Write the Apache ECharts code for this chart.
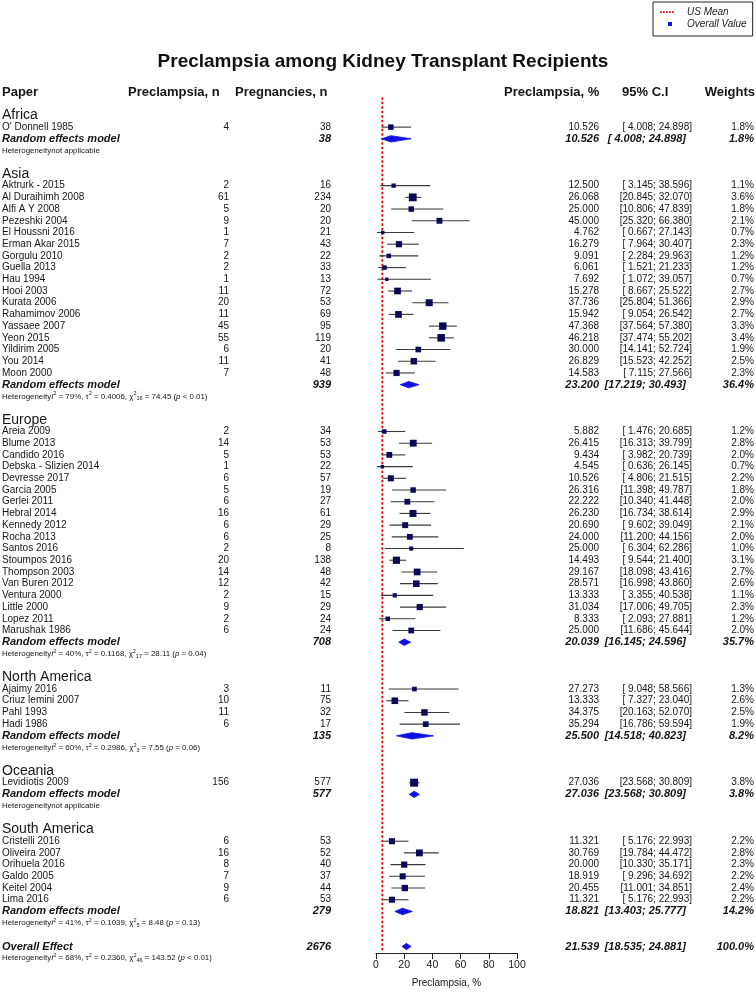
<!DOCTYPE html>
<html><head><meta charset="utf-8">
<script src="https://cdn.jsdelivr.net/npm/echarts@6/dist/echarts.min.js"></script>
<style>html,body{margin:0;padding:0;background:#fff}#c{width:756px;height:992px}</style>
</head><body><div id="c"></div>
<script>
// ---------------- DATA ----------------
const chartTitle = 'Preclampsia among Kidney Transplant Recipients';
const columnHeaders = ['Paper', 'Preclampsia, n', 'Pregnancies, n', 'Preclampsia, %', '95% C.I', 'Weights'];
const regions = ['Africa', 'Asia', 'Europe', 'North America', 'Oceania', 'South America'];

const studyNames = [
  "O' Donnell 1985",
  'Aktrurk - 2015', 'Al Duraihimh 2008', 'Alfi A Y 2008', 'Pezeshki 2004', 'El Houssni 2016', 'Erman Akar 2015',
  'Gorgulu 2010', 'Guella 2013', 'Hau 1994', 'Hooi 2003', 'Kurata 2006', 'Rahamimov 2006', 'Yassaee 2007',
  'Yeon 2015', 'Yildirim 2005', 'You 2014', 'Moon 2000',
  'Areia 2009', 'Blume 2013', 'Candido 2016', 'Debska - Slizien 2014', 'Devresse 2017', 'Garcia 2005',
  'Gerlei 2011', 'Hebral 2014', 'Kennedy 2012', 'Rocha 2013', 'Santos 2016', 'Stoumpos 2016',
  'Thompson 2003', 'Van Buren 2012', 'Ventura 2000', 'Little 2000', 'Lopez 2011', 'Marushak 1986',
  'Ajaimy 2016', 'Criuz lemini 2007', 'Pahl 1993', 'Hadi 1986',
  'Levidiotis 2009',
  'Cristelli 2016', 'Oliveira 2007', 'Orihuela 2016', 'Galdo 2005', 'Keitel 2004', 'Lima 2016'
];
const studyRegion = [
  'Africa',
  'Asia','Asia','Asia','Asia','Asia','Asia','Asia','Asia','Asia','Asia','Asia','Asia','Asia','Asia','Asia','Asia','Asia',
  'Europe','Europe','Europe','Europe','Europe','Europe','Europe','Europe','Europe','Europe','Europe','Europe',
  'Europe','Europe','Europe','Europe','Europe','Europe',
  'North America','North America','North America','North America',
  'Oceania',
  'South America','South America','South America','South America','South America','South America'
];
const preeclampsiaN = [4, 2,61,5,9,1,7,2,2,1,11,20,11,45,55,6,11,7, 2,14,5,1,6,5,6,16,6,6,2,20,14,12,2,9,2,6, 3,10,11,6, 156, 6,16,8,7,9,6];
const pregnanciesN = [38, 16,234,20,20,21,43,22,33,13,72,53,69,95,119,20,41,48, 34,53,53,22,57,19,27,61,29,25,8,138,48,42,15,29,24,24, 11,75,32,17, 577, 53,52,40,37,44,53];
const proportionPct = [10.526,
  12.500,26.068,25.000,45.000,4.762,16.279,9.091,6.061,7.692,15.278,37.736,15.942,47.368,46.218,30.000,26.829,14.583,
  5.882,26.415,9.434,4.545,10.526,26.316,22.222,26.230,20.690,24.000,25.000,14.493,29.167,28.571,13.333,31.034,8.333,25.000,
  27.273,13.333,34.375,35.294,
  27.036,
  11.321,30.769,20.000,18.919,20.455,11.321];
const ciLower = [4.008,
  3.145,20.845,10.806,25.320,0.667,7.964,2.284,1.521,1.072,8.667,25.804,9.054,37.564,37.474,14.141,15.523,7.115,
  1.476,16.313,3.982,0.636,4.806,11.398,10.340,16.734,9.602,11.200,6.304,9.544,18.098,16.998,3.355,17.006,2.093,11.686,
  9.048,7.327,20.163,16.786,
  23.568,
  5.176,19.784,10.330,9.296,11.001,5.176];
const ciUpper = [24.898,
  38.596,32.070,47.839,66.380,27.143,30.407,29.963,21.233,39.057,25.522,51.366,26.542,57.380,55.202,52.724,42.252,27.566,
  20.685,39.799,20.739,26.145,21.515,49.787,41.448,38.614,39.049,44.156,62.286,21.400,43.416,43.860,40.538,49.705,27.881,45.644,
  58.566,23.040,52.070,59.594,
  30.809,
  22.993,44.472,35.171,34.692,34.851,22.993];
const weightPct = [1.8,
  1.1,3.6,1.8,2.1,0.7,2.3,1.2,1.2,0.7,2.7,2.9,2.7,3.3,3.4,1.9,2.5,2.3,
  1.2,2.8,2.0,0.7,2.2,1.8,2.0,2.9,2.1,2.0,1.0,3.1,2.7,2.6,1.1,2.3,1.2,2.0,
  1.3,2.6,2.5,1.9,
  3.8,
  2.2,2.8,2.3,2.2,2.4,2.2];

// Random effects model per region
const pooledTotals = [38, 939, 708, 135, 577, 279];
const pooledProp   = [10.526, 23.200, 20.039, 25.500, 27.036, 18.821];
const pooledLower  = [4.008, 17.219, 16.145, 14.518, 23.568, 13.403];
const pooledUpper  = [24.898, 30.493, 24.596, 40.823, 30.809, 25.777];
const pooledWeight = [1.8, 36.4, 35.7, 8.2, 3.8, 14.2];
const hetI2   = [null, '79', '40', '60', null, '41'];
const hetTau2 = [null, '0.4006', '0.1168', '0.2986', null, '0.1039'];
const hetDf   = [null, '16', '17', '3', null, '5'];
const hetQ    = [null, '74.45', '28.11', '7.55', null, '8.48'];
const hetP    = [null, '< 0.01', '= 0.04', '= 0.06', null, '= 0.13'];

// Overall effect
const overallLabel = 'Overall Effect';
const overallTotal = 2676;
const overallProp = 21.539, overallLower = 18.535, overallUpper = 24.881, overallWeight = 100.0;
const overallHet = { i2: '68', tau2: '0.2360', df: '46', q: '143.52', p: '< 0.01' };

const usMean = 4.5;
const xTicks = [0, 20, 40, 60, 80, 100];
const xAxisName = 'Preclampsia, %';
const legendNames = ['US Mean', 'Overall Value'];

// ---------------- LAYOUT / STYLE ----------------
const FONT = '"Liberation Sans", Arial, Helvetica, sans-serif';
const TXT = '#151515';
const COL = { paper: 2, events: 229, totals: 331, prop: 599, ci: 692, ciBold: 686, weight: 754 };
const HDR = [{x:2, a:'left'}, {x:128, a:'left'}, {x:235, a:'left'}, {x:504, a:'left'}, {x:622, a:'left'}, {x:755, a:'right'}];

// build row structure
const rows = [];
rows.push({ kind: 'header' });
rows.push({ kind: 'blank' });
regions.forEach((reg, g) => {
  rows.push({ kind: 'region', g });
  studyNames.forEach((n, i) => { if (studyRegion[i] === reg) rows.push({ kind: 'study', i }); });
  rows.push({ kind: 'pooled', g });
  rows.push({ kind: 'het', g });
  rows.push({ kind: 'blank' });
});
rows.push({ kind: 'overall' });
rows.push({ kind: 'overallHet' });

const rowOfStudy = {}, rowOfPooled = {}; let rowOverall = 0;
rows.forEach((r, k) => {
  if (r.kind === 'study') rowOfStudy[r.i] = k;
  if (r.kind === 'pooled') rowOfPooled[r.g] = k;
  if (r.kind === 'overall') rowOverall = k;
});

const f3 = v => v.toFixed(3);
const ciText = (lo, hi) => '[' + (lo < 10 ? ' ' : '') + f3(lo) + '; ' + f3(hi) + ']';
const wText = w => w.toFixed(1) + '%';

function hetRich(h) {
  if (!h) return '{n|Heterogeneitynot applicable}';
  return '{n|Heterogeneity}{it|I}{sup|2}{n| = ' + h.i2 + '%, τ}{sup|2}{n| = ' + h.tau2 + ', χ}{sup|2}{sub|' + h.df +
    '}{n| = ' + h.q + ' (}{it|p}{n| ' + h.p + ')}';
}
const HF = 7.9;
const hetStyles = {
  n: { fontSize: HF, fontFamily: FONT, fill: TXT, lineHeight: 11 },
  it: { fontSize: HF, fontFamily: FONT, fontStyle: 'italic', fill: TXT, lineHeight: 11 },
  sup: { fontSize: 5.5, fontFamily: FONT, fill: TXT, verticalAlign: 'top', lineHeight: 7 },
  sub: { fontSize: 5.5, fontFamily: FONT, fill: TXT, verticalAlign: 'bottom', lineHeight: 7 }
};

function T(x, y, text, o) {
  return { type: 'text', x: x, y: y, silent: true,
    style: Object.assign({ text: text, fill: TXT, fontFamily: FONT, fontSize: 10, align: 'left', verticalAlign: 'middle' }, o || {}) };
}
const BI = { fontSize: 11, fontWeight: 'bold', fontStyle: 'italic' };

// series data
const tableData = rows.map((r, k) => [0, k]);
const studyData = studyNames.map((n, i) => [proportionPct[i], ciLower[i], ciUpper[i], rowOfStudy[i], weightPct[i]]);
const diamondData = regions.map((r, g) => [pooledProp[g], pooledLower[g], pooledUpper[g], rowOfPooled[g]])
  .concat([[overallProp, overallLower, overallUpper, rowOverall]]);
const refLine = [[usMean, 0.45], [usMean, rowOverall + 0.42]];

const chart = echarts.init(document.getElementById('c'), null, { renderer: 'canvas', width: 756, height: 992 });

const option = {
  animation: false,
  backgroundColor: '#fff',
  title: {
    text: chartTitle, left: 378, top: 47, textAlign: 'center',
    textStyle: { fontFamily: FONT, fontSize: 19, fontWeight: 'bold', color: '#111' }
  },
  legend: {
    left: 653, top: 2, orient: 'vertical', selectedMode: false,
    padding: [4, 6, 6, 7], itemGap: 0, itemWidth: 22, itemHeight: 8,
    borderColor: '#222', borderWidth: 1, backgroundColor: '#fff',
    textStyle: { fontFamily: FONT, fontSize: 10, fontStyle: 'italic', color: '#222', lineHeight: 12 },
    data: [
      { name: legendNames[0], icon: 'path://M0,0M22,8M0,3.2h1.7v1.7h-1.7zM3,3.2h1.7v1.7h-1.7zM6,3.2h1.7v1.7h-1.7zM9,3.2h1.7v1.7h-1.7zM12,3.2h1.7v1.7h-1.7z', itemStyle: { color: '#e00000', borderWidth: 0 } },
      { name: legendNames[1], icon: 'path://M0,0M22,8M8,2h4v4h-4z', itemStyle: { color: '#1010e0', borderWidth: 0 } }
    ]
  },
  grid: { left: 376, width: 141, top: 92, height: 861, outerBoundsMode: 'none', containLabel: false },
  xAxis: {
    type: 'value', min: xTicks[0], max: xTicks[xTicks.length - 1], interval: 20,
    name: xAxisName, nameLocation: 'middle', nameGap: 25,
    nameTextStyle: { fontFamily: FONT, fontSize: 10, color: TXT },
    axisLine: { show: true, onZero: false, lineStyle: { color: '#222', width: 1 } },
    axisTick: { show: true, inside: false, length: 6, lineStyle: { color: '#222' } },
    axisLabel: { fontFamily: FONT, fontSize: 10.5, color: TXT, margin: 7 },
    splitLine: { show: false }
  },
  yAxis: { type: 'value', min: 0, max: rowOverall + 0.55, inverse: true, show: false },
  series: [
    {
      type: 'line', name: legendNames[0], data: refLine, symbol: 'none', z: 1,
      itemStyle: { color: '#e00000' },
      lineStyle: { color: '#e00000', width: 1.8, type: [2.5, 2] }
    },
    {
      type: 'custom', name: 'studies', data: studyData, encode: { x: [0, 1, 2], y: 3 }, z: 3, clip: false,
      renderItem: function (params, api) {
        const row = api.value(3);
        const p = api.coord([api.value(0), row]);
        const l = api.coord([api.value(1), row]);
        const u = api.coord([api.value(2), row]);
        const s = 4.1 * Math.sqrt(api.value(4));
        return { type: 'group', children: [
          { type: 'line', shape: { x1: l[0], y1: p[1], x2: u[0], y2: p[1] }, style: { stroke: '#3a3a3a', lineWidth: 1.1 } },
          { type: 'rect', shape: { x: p[0] - s / 2, y: p[1] - s / 2, width: s, height: s }, style: { fill: '#0b0b55' } }
        ] };
      }
    },
    {
      type: 'custom', name: legendNames[1], data: diamondData, encode: { x: [0, 1, 2], y: 3 }, z: 3, clip: false,
      itemStyle: { color: '#1010e0' },
      renderItem: function (params, api) {
        const row = api.value(3);
        const p = api.coord([api.value(0), row]);
        const l = api.coord([api.value(1), row]);
        const u = api.coord([api.value(2), row]);
        const h = 3.2;
        return { type: 'polygon', shape: { points: [[l[0], p[1]], [p[0], p[1] - h], [u[0], p[1]], [p[0], p[1] + h]] },
          style: { fill: '#1010e0', stroke: '#1010e0', lineWidth: 0.8 } };
      }
    },
    {
      type: 'custom', name: 'table', data: tableData, encode: { x: 0, y: 1 }, z: 5, silent: true, clip: false,
      renderItem: function (params, api) {
        const k = api.value(1);
        const y = api.coord([0, k])[1];
        const r = rows[k];
        const c = [];
        if (r.kind === 'header') {
          columnHeaders.forEach((h, j) => c.push(T(HDR[j].x, y, h, { fontSize: 13, fontWeight: 'bold', align: HDR[j].a })));
        } else if (r.kind === 'region') {
          c.push(T(COL.paper, y, regions[r.g], { fontSize: 14 }));
        } else if (r.kind === 'study') {
          const i = r.i;
          c.push(T(COL.paper, y, studyNames[i]));
          c.push(T(COL.events, y, String(preeclampsiaN[i]), { align: 'right' }));
          c.push(T(COL.totals, y, String(pregnanciesN[i]), { align: 'right' }));
          c.push(T(COL.prop, y, f3(proportionPct[i]), { align: 'right' }));
          c.push(T(COL.ci, y, ciText(ciLower[i], ciUpper[i]), { align: 'right' }));
          c.push(T(COL.weight, y, wText(weightPct[i]), { align: 'right' }));
        } else if (r.kind === 'pooled') {
          const g = r.g;
          c.push(T(COL.paper, y, 'Random effects model', BI));
          c.push(T(COL.totals, y, String(pooledTotals[g]), Object.assign({ align: 'right' }, BI)));
          c.push(T(COL.prop, y, f3(pooledProp[g]), Object.assign({ align: 'right' }, BI)));
          c.push(T(COL.ciBold, y, ciText(pooledLower[g], pooledUpper[g]), Object.assign({ align: 'right' }, BI)));
          c.push(T(COL.weight, y, wText(pooledWeight[g]), Object.assign({ align: 'right' }, BI)));
        } else if (r.kind === 'het' || r.kind === 'overallHet') {
          let h = null;
          if (r.kind === 'het') {
            const g = r.g;
            if (hetI2[g] !== null) h = { i2: hetI2[g], tau2: hetTau2[g], df: hetDf[g], q: hetQ[g], p: hetP[g] };
          } else h = overallHet;
          c.push({ type: 'text', x: COL.paper, y: y, silent: true,
            style: { text: hetRich(h), rich: hetStyles, fontFamily: FONT, fontSize: HF, fill: TXT, align: 'left', verticalAlign: 'middle' } });
        } else if (r.kind === 'overall') {
          c.push(T(COL.paper, y, overallLabel, BI));
          c.push(T(COL.totals, y, String(overallTotal), Object.assign({ align: 'right' }, BI)));
          c.push(T(COL.prop, y, f3(overallProp), Object.assign({ align: 'right' }, BI)));
          c.push(T(COL.ciBold, y, ciText(overallLower, overallUpper), Object.assign({ align: 'right' }, BI)));
          c.push(T(COL.weight, y, wText(overallWeight), Object.assign({ align: 'right' }, BI)));
        }
        return { type: 'group', children: c };
      }
    }
  ]
};
chart.setOption(option);
</script>
</body></html>
